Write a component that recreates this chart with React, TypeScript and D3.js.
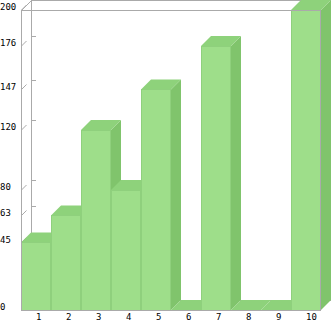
import React from "react";
import * as d3 from "d3";

const categories = ["1", "2", "3", "4", "5", "6", "7", "8", "9", "10"];
const values = [45, 63, 120, 80, 147, 0, 176, 0, 0, 200];
const yTickValues = [0, 45, 63, 80, 120, 147, 176, 200];

const W = 333;
const H = 321;
const DX = 10;
const DY = 10;
const FRONT = "#9EDE8A";
const TOP = "#8ED27B";
const SIDE = "#80C46C";
const EDGE = "#8FD07D";
const GRID = "#AAAAAA";
const FONT = "'DejaVu Sans Mono', monospace";

export default function App() {
  const x = d3.scaleBand<string>().domain(categories).range([21, 321]).padding(0);
  const y = d3.scaleLinear().domain([0, 200]).range([310, 10]);
  const x0 = x.range()[0];
  const x1 = x.range()[1];
  const y0 = y(0);
  const yTop = y(200);
  const pts = (p: number[][]) => p.map((q) => q.join(",")).join(" ");

  return (
    <svg
      width={W}
      height={H}
      style={{ position: "fixed", left: 0, top: 0, background: "#fff" }}
    >
      {/* back walls */}
      <g stroke={GRID} strokeWidth={1} fill="none" shapeRendering="crispEdges">
        <line x1={x0 + DX + 0.5} y1={yTop - DY + 0.5} x2={x0 + DX + 0.5} y2={y0 - DY} />
        <line x1={x0 + DX} y1={yTop - DY + 0.5} x2={x1 + DX} y2={yTop - DY + 0.5} />
        <line x1={x0 + DX} y1={y0 - DY + 0.5} x2={x1 + DX} y2={y0 - DY + 0.5} />
        <line x1={x1 + DX - 0.5} y1={yTop - DY} x2={x1 + DX - 0.5} y2={y0 - DY} />
      </g>
      <g stroke={GRID} strokeWidth={1} fill="none">
        {yTickValues.map((v) => (
          <g key={v}>
            <line
              x1={x0 + DX}
              x2={x0 + DX + 5}
              y1={Math.round(y(v) - DY) + 0.5}
              y2={Math.round(y(v) - DY) + 0.5}
              shapeRendering="crispEdges"
            />
            <line x1={x0 + 0.5} y1={y(v)} x2={x0 + 5.5} y2={y(v) - 5} />
          </g>
        ))}
        <line x1={x0 + 0.5} y1={yTop + 0.5} x2={x0 + DX + 0.5} y2={yTop - DY + 0.5} />
        <line x1={x1 - 0.5} y1={y0 - 0.5} x2={x1 + DX - 0.5} y2={y0 - DY - 0.5} />
      </g>

      {/* bars */}
      <g>
        {categories.map((c, i) => {
          const bx = x(c) as number;
          const bw = x.bandwidth();
          const by = y(values[i]);
          return (
            <g key={c}>
              {values[i] > 0 && (
                <polygon
                  points={pts([
                    [bx + bw, by],
                    [bx + bw + DX, by - DY],
                    [bx + bw + DX, y0 - DY],
                    [bx + bw, y0],
                  ])}
                  fill={SIDE}
                />
              )}
              <polygon
                points={pts([
                  [bx, by],
                  [bx + DX, by - DY],
                  [bx + bw + DX, by - DY],
                  [bx + bw, by],
                ])}
                fill={TOP}
              />
              {values[i] > 0 && (
                <rect
                  x={bx + 0.5}
                  y={by}
                  width={bw - 1}
                  height={y0 - by}
                  fill={FRONT}
                  stroke={EDGE}
                  strokeWidth={1}
                  shapeRendering="crispEdges"
                />
              )}
            </g>
          );
        })}
      </g>

      {/* front frame */}
      <g stroke={GRID} strokeWidth={1} fill="none" shapeRendering="crispEdges">
        <line x1={x0 + 0.5} y1={yTop} x2={x0 + 0.5} y2={y0 + 1} />
        <line x1={x0} y1={y0 + 0.5} x2={x1} y2={y0 + 0.5} />
        <line x1={x0} y1={yTop + 0.5} x2={x1} y2={yTop + 0.5} />
        <line x1={x1 - 0.5} y1={yTop} x2={x1 - 0.5} y2={y0 + 1} />
      </g>

      {/* labels */}
      <g fontFamily={FONT} fontSize={9} fill="#000">
        {yTickValues.map((v) => (
          <text key={v} x={0} y={y(v)}>
            {v}
          </text>
        ))}
        {categories.map((c) => (
          <text key={c} x={(x(c) as number) + x.bandwidth() / 2} y={320}>
            {c}
          </text>
        ))}
      </g>
    </svg>
  );
}
